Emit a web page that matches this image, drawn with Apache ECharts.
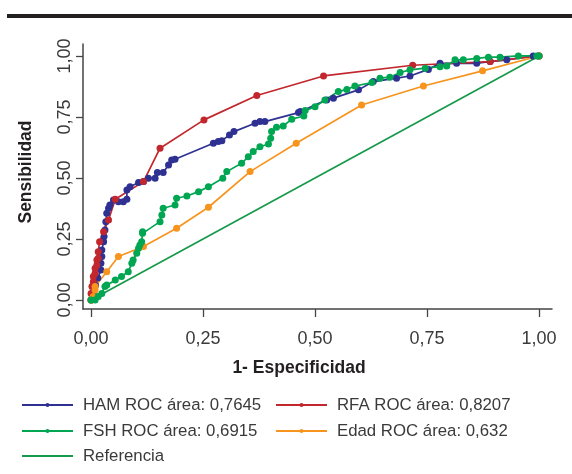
<!DOCTYPE html>
<html>
<head>
<meta charset="utf-8">
<script src="https://cdn.jsdelivr.net/npm/echarts@6/dist/echarts.min.js"></script>
<style>
html,body{margin:0;padding:0;background:#fff;}
#chart{width:572px;height:474px;}
</style>
</head>
<body>
<div id="chart"></div>
<script>
// Tick values
const tickValues = [0, 0.25, 0.5, 0.75, 1];

// Series names
const hamName = 'HAM ROC área: 0,7645';
const rfaName = 'RFA ROC área: 0,8207';
const fshName = 'FSH ROC área: 0,6915';
const edadName = 'Edad ROC área: 0,632';
const refName = 'Referencia';

// [1-especificidad, sensibilidad]
const hamPoints = [
  [0,0],[0.005,0.03],[0.01,0.06],[0.015,0.09],[0.022,0.123],[0.022,0.15],[0.024,0.178],[0.024,0.205],
  [0.028,0.239],[0.029,0.26],[0.031,0.287],[0.033,0.321],[0.035,0.355],[0.039,0.376],[0.042,0.389],
  [0.05,0.41],[0.061,0.403],[0.072,0.403],[0.08,0.413],[0.08,0.451],[0.087,0.464],[0.106,0.481],
  [0.117,0.485],[0.128,0.499],[0.143,0.499],[0.148,0.522],[0.161,0.522],[0.173,0.553],[0.18,0.574],
  [0.1875,0.577],[0.273,0.642],[0.284,0.649],[0.292,0.653],[0.309,0.676],[0.319,0.69],[0.366,0.724],
  [0.377,0.731],[0.388,0.731],[0.463,0.768],[0.467,0.772],[0.526,0.82],[0.541,0.827],[0.597,0.861],
  [0.63,0.895],[0.682,0.909],[0.712,0.918],[0.753,0.945],[0.779,0.97],[0.816,0.97],[0.861,0.97],
  [0.891,0.977],[0.928,0.984],[0.987,1.0],[1,1]
];
const rfaPoints = [
  [0,0],[0,0.027],[0.002,0.055],[0.005,0.075],[0.005,0.096],[0.009,0.11],[0.009,0.13],[0.013,0.143],
  [0.013,0.164],[0.016,0.171],[0.016,0.198],[0.019,0.239],[0.028,0.28],[0.039,0.328],[0.054,0.413],
  [0.117,0.485],[0.154,0.622],[0.252,0.738],[0.37,0.838],[0.519,0.918],[0.718,0.962],[0.891,0.977],[1,1]
];
const fshPoints = [
  [0,0],[0.009,0],[0.016,0.014],[0.024,0.027],[0.031,0.055],[0.035,0.061],[0.054,0.082],[0.068,0.096],
  [0.083,0.116],[0.091,0.15],[0.094,0.164],[0.102,0.191],[0.106,0.212],[0.109,0.225],[0.113,0.239],
  [0.115,0.273],[0.115,0.28],[0.154,0.321],[0.158,0.348],[0.161,0.376],[0.1875,0.389],[0.191,0.417],
  [0.214,0.426],[0.24,0.444],[0.262,0.464],[0.294,0.499],[0.303,0.526],[0.336,0.56],[0.351,0.587],
  [0.362,0.608],[0.377,0.628],[0.396,0.639],[0.401,0.663],[0.403,0.69],[0.414,0.708],[0.429,0.713],
  [0.448,0.741],[0.475,0.754],[0.478,0.776],[0.5,0.792],[0.522,0.82],[0.552,0.854],[0.571,0.863],
  [0.589,0.877],[0.627,0.891],[0.645,0.909],[0.667,0.913],[0.69,0.932],[0.712,0.943],[0.746,0.95],
  [0.779,0.956],[0.794,0.959],[0.8125,0.984],[0.831,0.984],[0.861,0.99],[0.887,0.995],[0.913,0.995],
  [0.954,1],[0.995,1],[1,1]
];
const edadPoints = [
  [0,0],[0.005,0.007],[0.005,0.014],[0.009,0.041],[0.009,0.055],[0.035,0.116],[0.061,0.178],
  [0.117,0.219],[0.191,0.294],[0.262,0.38],[0.355,0.526],[0.458,0.642],[0.604,0.799],[0.742,0.877],
  [0.874,0.939],[1,1]
];
const refPoints = [[0,0],[1,1]];

const colors = {ham:'#2e3192', rfa:'#c1272d', fsh:'#00a651', edad:'#f7941d', ref:'#16994a'};
const txt = '#3a3a3a';
const fmt = v => v.toFixed(2).replace('.', ',');

const chart = echarts.init(document.getElementById('chart'), null, {renderer:'canvas'});

function lineSeries(name, data, color, sym) {
  return {
    name, type:'line', data,
    symbol: sym ? 'circle' : 'none',
    symbolSize: 7,
    showSymbol: !!sym,
    lineStyle:{color, width:1.7},
    itemStyle:{color},
    animation:false,
    clip:false
  };
}

const legendText = {fontFamily:'"Liberation Sans",Arial,sans-serif', fontSize:16.8, lineHeight:20, color:txt, padding:[0,0,0,5]};
function legendItem(item, left, centerY) {
  return {left, top:centerY - 10, padding:0, orient:'horizontal', itemWidth:51, itemHeight:5,
          data:[item], textStyle:legendText, selectedMode:false};
}

chart.setOption({
  backgroundColor:'#fff',
  animation:false,
  grid:{left:83, right:20, top:44, bottom:165},
  xAxis:{
    type:'value', min:-0.018, max:1.029,
    axisLine:{onZero:false, lineStyle:{color:'#444', width:1.5}},
    axisTick:{show:true, length:8, customValues:tickValues, lineStyle:{color:'#444', width:1.3}},
    axisLabel:{customValues:tickValues, formatter:fmt, margin:21, color:txt, fontSize:18, fontFamily:'"Liberation Sans",Arial,sans-serif'},
    splitLine:{show:false}
  },
  yAxis:{
    type:'value', min:-0.037, max:1.049,
    axisLine:{show:true, onZero:false, lineStyle:{color:'#444', width:1.5}},
    axisTick:{show:true, length:7, customValues:tickValues, lineStyle:{color:'#444', width:1.3}},
    axisLabel:{customValues:tickValues, formatter:fmt, rotate:90, margin:9, color:txt, fontSize:18, fontFamily:'"Liberation Sans",Arial,sans-serif'},
    splitLine:{show:false}
  },
  legend:[
    legendItem(hamName, 21, 405),
    legendItem(fshName, 21, 431),
    legendItem({name:refName, itemStyle:{opacity:0}}, 21, 456),
    legendItem(rfaName, 275, 405),
    legendItem(edadName, 275, 431)
  ],
  graphic:[
    {type:'rect', left:7, top:14, shape:{width:565, height:4}, style:{fill:'#231f20'}},
    {type:'text', x:26, y:172, rotation:Math.PI/2, style:{text:'Sensibilidad', font:'bold 17.5px "Liberation Sans",Arial,sans-serif', fill:'#231f20', align:'center', verticalAlign:'middle'}},
    {type:'text', x:299, y:368, style:{text:'1- Especificidad', font:'bold 17.5px "Liberation Sans",Arial,sans-serif', fill:'#231f20', align:'center', verticalAlign:'middle'}}
  ],
  series:[
    lineSeries(refName, refPoints, colors.ref, false),
    lineSeries(hamName, hamPoints, colors.ham, true),
    lineSeries(rfaName, rfaPoints, colors.rfa, true),
    lineSeries(edadName, edadPoints, colors.edad, true),
    lineSeries(fshName, fshPoints, colors.fsh, true)
  ]
});
</script>
</body>
</html>
